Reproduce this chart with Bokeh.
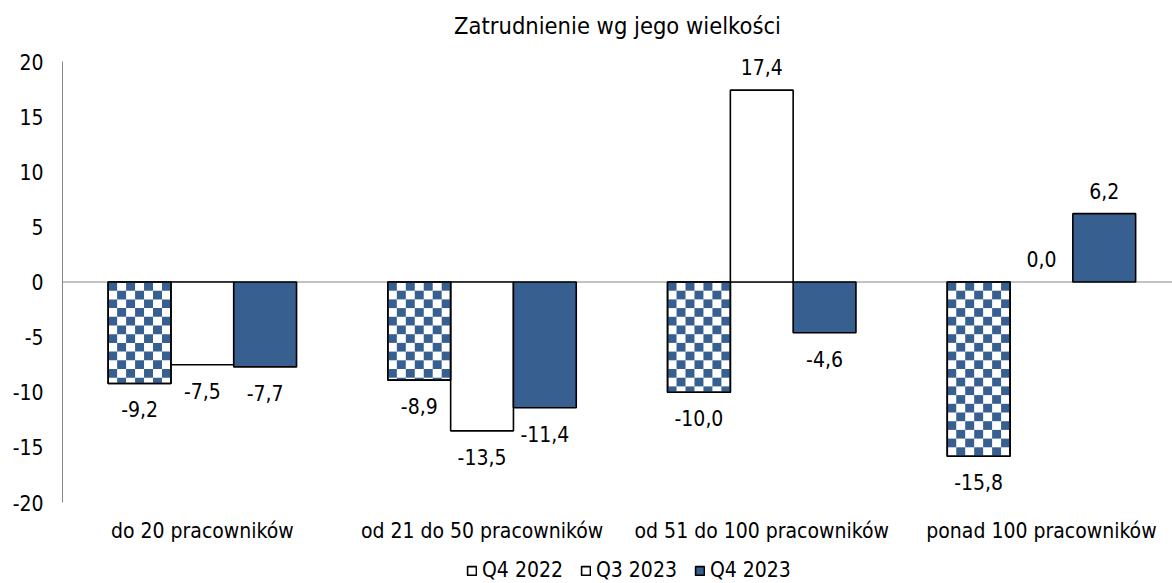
import math
from bokeh.plotting import figure
from bokeh.models import (ColumnDataSource, Range1d, FixedTicker, Span, Legend, LegendItem)
from bokeh.embed import file_html
from bokeh.resources import INLINE

# ---------------- data ----------------
categories = ["do 20 pracowników", "od 21 do 50 pracowników",
              "od 51 do 100 pracowników", "ponad 100 pracowników"]
series_names = ["Q4 2022", "Q3 2023", "Q4 2023"]
q4_2022 = [-9.2, -8.9, -10.0, -15.8]
q3_2023 = [-7.5, -13.5, 17.4, 0.0]
q4_2023 = [-7.7, -11.4, -4.6, 6.2]
y_ticks = [-20, -15, -10, -5, 0, 5, 10, 15, 20]

# ---------------- style ----------------
FONT = "DejaVu Sans Condensed"
BLUE = "#376091"
GRAY = "#868686"
W, H = 1172, 583
LEFT = 62
AXIS_TOP = 61                 # pixel row of value 20
FRAME_TOP = 45                # frame starts a bit higher so labels are not clipped
PX_UNIT = 441 / 40.0          # pixels per value unit
CAT_PX = 279.7                # pixels per category
BAR_W = 0.2245                # bar width in category units
CELL_PX = 8.7                 # checker cell size

frame_w = W - LEFT
frame_h = H - FRAME_TOP
y_hi = 20 + (AXIS_TOP - FRAME_TOP) / PX_UNIT
y_lo = y_hi - frame_h / PX_UNIT

p = figure(width=W, height=H, output_backend="svg", toolbar_location=None,
           x_range=Range1d(0, frame_w / CAT_PX), y_range=Range1d(y_lo, y_hi),
           min_border_left=LEFT, min_border_right=0, min_border_top=FRAME_TOP,
           min_border_bottom=0, title="Zatrudnienie wg jego wielkości")
p.title.align = "center"
p.title.text_font = FONT
p.title.text_font_size = "23.5px"
p.title.text_font_style = "normal"
p.title.text_color = "black"
p.title.standoff = 12
p.outline_line_color = None
p.xgrid.visible = False
p.ygrid.visible = False
p.background_fill_color = "white"
p.border_fill_color = "white"

# zero line
p.add_layout(Span(location=0, dimension="width", line_color=GRAY, line_width=1, level="underlay"))

def fmt(v):
    return f"{v:.1f}".replace(".", ",")

all_series = [q4_2022, q3_2023, q4_2023]
fills = ["white", "white", BLUE]
renderers = []
sources = []
for k, (vals, fc) in enumerate(zip(all_series, fills)):
    xs = [i + 0.5 + (k - 1) * BAR_W for i in range(len(categories))]
    src = ColumnDataSource(dict(
        x=xs, top=vals,
        lc=["black" if v != 0 else None for v in vals],
        lab=[fmt(v) for v in vals],
        off=[26 if v < 0 else -23 for v in vals],
    ))
    sources.append(src)
    r = p.vbar(x="x", top="top", bottom=0, width=BAR_W, source=src,
               fill_color=fc, line_color="lc", line_width=1.6)
    renderers.append(r)

# checker pattern cells for the first series (computed from its bars)
cw = BAR_W / 7.0
ch = CELL_PX / PX_UNIT
L, R, T, B = [], [], [], []
for i, v in enumerate(q4_2022):
    xl = i + 0.5 - BAR_W - BAR_W / 2
    sign = -1 if v < 0 else 1
    nrows = int(math.ceil(abs(v) / ch))
    for row in range(nrows):
        y0 = sign * row * ch
        y1 = sign * min((row + 1) * ch, abs(v))
        for col in range(7):
            if (row + col) % 2 == 0:
                L.append(xl + col * cw)
                R.append(xl + (col + 1) * cw)
                T.append(max(y0, y1))
                B.append(min(y0, y1))
p.quad(left=L, right=R, top=T, bottom=B, fill_color=BLUE, line_color=None)
# outline on top of the checker cells
p.vbar(x="x", top="top", bottom=0, width=BAR_W, source=sources[0],
       fill_alpha=0, line_color="lc", line_width=1.6)

for src in sources:
    p.text(x="x", y="top", text="lab", source=src, y_offset="off",
           text_align="center", text_baseline="middle",
           text_font={"value": FONT}, text_font_size="21px", text_color="black")

# x axis (category labels), placed at the bottom of the value axis
xa = p.xaxis[0]
xa.fixed_location = -20
xa.ticker = FixedTicker(ticks=[i + 0.5 for i in range(len(categories))])
xa.major_label_overrides = {i + 0.5: c for i, c in enumerate(categories)}
xa.axis_line_color = None
xa.major_tick_line_color = None
xa.minor_tick_line_color = None
xa.major_tick_out = 0
xa.major_tick_in = 0
xa.major_label_standoff = 16
xa.major_label_text_font = FONT
xa.major_label_text_font_size = "21px"
xa.major_label_text_color = "black"

ya = p.yaxis[0]
ya.bounds = (-20, 20)
ya.ticker = FixedTicker(ticks=y_ticks)
ya.major_label_overrides = {t: str(t) for t in y_ticks}
ya.axis_line_color = GRAY
ya.axis_line_width = 1
ya.major_tick_line_color = None
ya.minor_tick_line_color = None
ya.major_tick_out = 0
ya.major_tick_in = 0
ya.major_label_standoff = 19
ya.major_label_text_font = FONT
ya.major_label_text_font_size = "21px"
ya.major_label_text_color = "black"

legend = Legend(items=[LegendItem(label=n, renderers=[r]) for n, r in zip(series_names, renderers)],
                orientation="horizontal", location=(404, 1),
                glyph_width=11, glyph_height=11, label_standoff=5, spacing=17,
                padding=0, margin=0, border_line_color=None, background_fill_alpha=0,
                label_text_font=FONT, label_text_font_size="21px", label_height=22,
                label_text_color="black")
p.add_layout(legend, "center")

open("out.html", "w").write(file_html(p, INLINE))
